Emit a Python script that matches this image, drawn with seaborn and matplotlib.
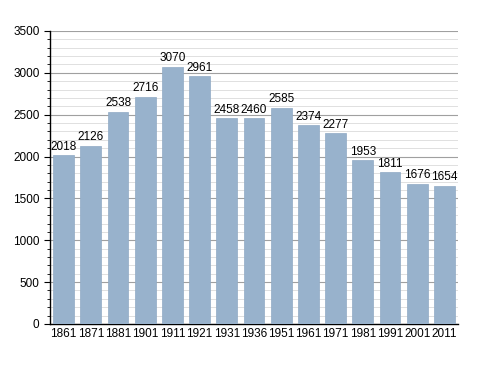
import matplotlib
matplotlib.use("Agg")
import matplotlib.pyplot as plt
import seaborn as sns
import pandas as pd
from matplotlib.ticker import MultipleLocator

years = ["1861", "1871", "1881", "1901", "1911", "1921", "1931", "1936",
         "1951", "1961", "1971", "1981", "1991", "2001", "2011"]
population = [2018, 2126, 2538, 2716, 3070, 2961, 2458, 2460,
              2585, 2374, 2277, 1953, 1811, 1676, 1654]

df = pd.DataFrame({"year": years, "pop": population})

sns.set_style("white")
plt.rcParams['font.family'] = ['Liberation Sans', 'DejaVu Sans']
plt.rcParams['text.color'] = 'black'
plt.rcParams['xtick.color'] = 'black'
plt.rcParams['ytick.color'] = 'black'

fig = plt.figure(figsize=(4.88, 3.73), dpi=100)
ax = fig.add_axes([0.1025, 0.1314, 0.836, 0.7856])

sns.barplot(data=df, x="year", y="pop", color="#98b2cc", width=0.76,
            saturation=1, ax=ax, zorder=3, edgecolor="#90aac4", linewidth=0.5)

ax.set_ylim(0, 3500)
ax.set_xlim(-0.5, len(years) - 0.5)
ax.yaxis.set_major_locator(MultipleLocator(500))
ax.yaxis.set_minor_locator(MultipleLocator(100))
ax.grid(which="major", axis="y", color="#a0a0a0", linewidth=0.8, zorder=0)
ax.grid(which="minor", axis="y", color="#e0e0e0", linewidth=0.7, zorder=0)
ax.set_axisbelow(True)

for s in ["top", "right"]:
    ax.spines[s].set_visible(False)
for s in ["left", "bottom"]:
    ax.spines[s].set_color("black")
    ax.spines[s].set_linewidth(1.0)

ax.tick_params(axis="y", which="major", length=4, width=0.8, color="black",
               labelsize=8.5, direction="out", left=True, labelcolor="black")
ax.tick_params(axis="y", which="minor", length=2, width=0.6, color="black",
               direction="out", left=True)
ax.tick_params(axis="x", length=0, labelsize=8.5, pad=3, labelcolor="black")
ax.set_xlabel("")
ax.set_ylabel("")

for i, v in enumerate(population):
    ax.text(i, v + 30, str(v), ha="center", va="bottom", fontsize=8.5,
            color="black")

fig.savefig("out.png", dpi=100)
